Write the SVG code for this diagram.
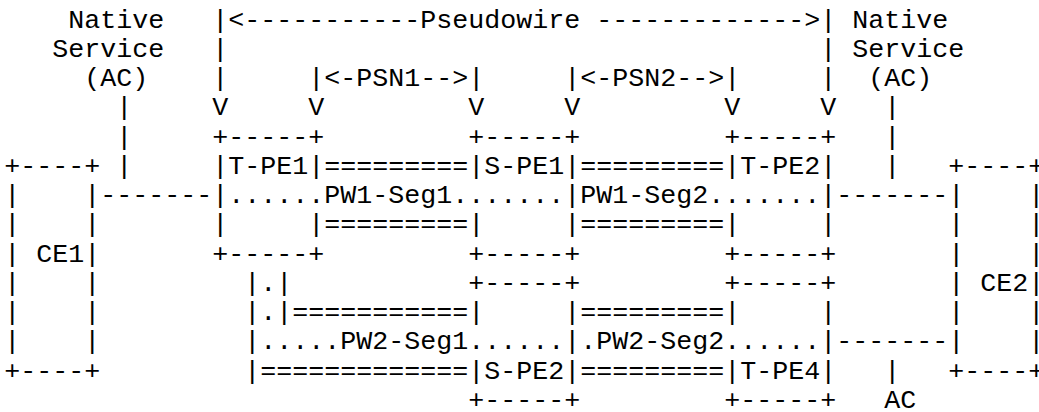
<svg xmlns="http://www.w3.org/2000/svg" width="1039" height="412" viewBox="0 0 1039 412">
<style>
text{font-family:"Liberation Mono","Courier New",monospace;font-size:26.667px;fill:#000;white-space:pre}
</style>
<rect width="1039" height="412" fill="#fff"/>
<g transform="translate(4.3 27.6)">
<g id="connectors">
<text x="208" y="0" xml:space="preserve">|&lt;-----------Pseudowire -------------&gt;|</text>
<text x="208" y="29.26">|</text><text x="816" y="29.26">|</text>
<text x="208" y="58.52">|</text><text x="816" y="58.52">|</text>
<text x="304" y="58.52">|&lt;-PSN1--&gt;|</text>
<text x="560" y="58.52">|&lt;-PSN2--&gt;|</text>
<text x="208" y="87.78">V</text><text x="304" y="87.78">V</text><text x="464" y="87.78">V</text>
<text x="560" y="87.78">V</text><text x="720" y="87.78">V</text><text x="816" y="87.78">V</text>
<text x="112" y="87.78">|</text><text x="112" y="117.04">|</text><text x="112" y="146.3">|</text>
<text x="96" y="175.56">-------</text>
<text x="880" y="87.78">|</text><text x="880" y="117.04">|</text><text x="880" y="146.3">|</text>
<text x="832" y="175.56">-------</text>
<text x="320" y="146.3">=========</text><text x="576" y="146.3">=========</text>
<text x="320" y="204.82">=========</text><text x="576" y="204.82">=========</text>
<text x="224" y="175.56">......PW1-Seg1.......</text>
<text x="576" y="175.56">PW1-Seg2.......</text>
<text x="240" y="263.34">|.|</text>
<text x="240" y="292.6">|.|===========</text>
<text x="576" y="292.6">=========</text>
<text x="240" y="321.86">|.....PW2-Seg1......</text>
<text x="576" y="321.86">.PW2-Seg2......</text>
<text x="832" y="321.86">-------</text>
<text x="240" y="351.12">|=============</text>
<text x="576" y="351.12">=========</text>
<text x="880" y="351.12">|</text>
</g>
<g id="ce1">
<text x="0" y="146.3">+----+</text>
<text x="0" y="175.56" xml:space="preserve">|    |</text>
<text x="0" y="204.82" xml:space="preserve">|    |</text>
<text x="0" y="234.08" xml:space="preserve">| CE1|</text>
<text x="0" y="263.34" xml:space="preserve">|    |</text>
<text x="0" y="292.6" xml:space="preserve">|    |</text>
<text x="0" y="321.86" xml:space="preserve">|    |</text>
<text x="0" y="351.12">+----+</text>
</g>
<g id="ce2">
<text x="944" y="146.3">+----+</text>
<text x="944" y="175.56" xml:space="preserve">|    |</text>
<text x="944" y="204.82" xml:space="preserve">|    |</text>
<text x="944" y="234.08" xml:space="preserve">|    |</text>
<text x="944" y="263.34" xml:space="preserve">| CE2|</text>
<text x="944" y="292.6" xml:space="preserve">|    |</text>
<text x="944" y="321.86" xml:space="preserve">|    |</text>
<text x="944" y="351.12">+----+</text>
</g>
<g id="t-pe1">
<text x="208" y="117.04">+-----+</text>
<text x="208" y="146.3">|T-PE1|</text>
<text x="208" y="175.56">|</text>
<text x="208" y="204.82" xml:space="preserve">|     |</text>
<text x="208" y="234.08">+-----+</text>
</g>
<g id="s-pe1">
<text x="464" y="117.04">+-----+</text>
<text x="464" y="146.3">|S-PE1|</text>
<text x="560" y="175.56">|</text>
<text x="464" y="204.82" xml:space="preserve">|     |</text>
<text x="464" y="234.08">+-----+</text>
</g>
<g id="t-pe2">
<text x="720" y="117.04">+-----+</text>
<text x="720" y="146.3">|T-PE2|</text>
<text x="816" y="175.56">|</text>
<text x="720" y="204.82" xml:space="preserve">|     |</text>
<text x="720" y="234.08">+-----+</text>
</g>
<g id="s-pe2">
<text x="464" y="263.34">+-----+</text>
<text x="464" y="292.6" xml:space="preserve">|     |</text>
<text x="560" y="321.86">|</text>
<text x="464" y="351.12">|S-PE2|</text>
<text x="464" y="380.38">+-----+</text>
</g>
<g id="t-pe4">
<text x="720" y="263.34">+-----+</text>
<text x="720" y="292.6" xml:space="preserve">|     |</text>
<text x="816" y="321.86">|</text>
<text x="720" y="351.12">|T-PE4|</text>
<text x="720" y="380.38">+-----+</text>
</g>
<g id="label-native-left">
<text x="64" y="0">Native</text>
<text x="48" y="29.26">Service</text>
<text x="80" y="58.52">(AC)</text>
</g>
<g id="label-native-right">
<text x="848" y="0">Native</text>
<text x="848" y="29.26">Service</text>
<text x="864" y="58.52">(AC)</text>
</g>
<g id="label-ac">
<text x="880" y="380.38">AC</text>
</g>
</g>
</svg>
